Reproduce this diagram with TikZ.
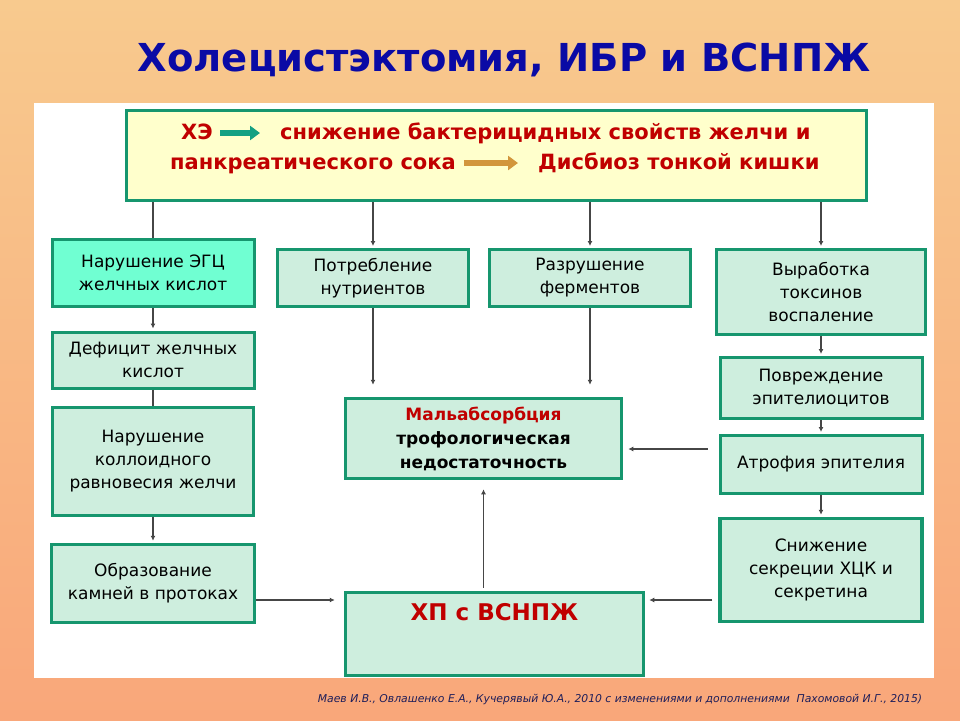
\documentclass[tikz,border=0pt]{standalone}
\usepackage{fontspec}
\setmainfont{DejaVu Sans}
\usetikzlibrary{arrows.meta}
\definecolor{bgtop}{RGB}{248,202,142}
\definecolor{bgbot}{RGB}{249,167,122}
\definecolor{boxline}{RGB}{22,150,110}
\definecolor{boxfill}{RGB}{206,238,222}
\definecolor{egcfill}{RGB}{112,255,210}
\definecolor{topfill}{RGB}{255,255,204}
\definecolor{darkred}{RGB}{192,0,0}
\definecolor{titleblue}{RGB}{10,10,165}
\definecolor{linegray}{RGB}{70,70,70}
\definecolor{arrgreen}{RGB}{20,160,130}
\definecolor{arrorange}{RGB}{210,150,60}
\definecolor{footblue}{RGB}{30,30,90}
\tikzset{
  box/.style={draw=boxline,line width=3pt,fill=boxfill,align=center,inner sep=2pt,
    font=\fontsize{17}{23}\selectfont},
  conn/.style={draw=linegray,line width=1.6pt,shorten >=2pt,-{Latex[length=5pt,width=5pt]}},
  link/.style={draw=linegray,line width=1.6pt},
  fat/.style={line width=6pt,draw=#1,-{Triangle[length=10pt,width=14pt]}},
  toptext/.style={text=darkred,font=\fontsize{21}{25}\selectfont\bfseries,inner sep=0pt,
    anchor=west,text height=15pt,text depth=2pt}
}
\begin{document}
\begin{tikzpicture}[x=1pt,y=-1pt]
\shade[top color=bgtop,bottom color=bgbot] (0,0) rectangle (960,720);
\useasboundingbox (0,0) rectangle (960,720);
\fill[white] (34,103) rectangle (934,678);
\node[font=\fontsize{38.5}{46}\selectfont\bfseries,text=titleblue] (title) at (504,60) {Холецистэктомия, ИБР и ВСНПЖ};
\node[box,fill=topfill,minimum width=740pt,minimum height=90pt] (top) at (496,155.5) {};
\node[toptext] (he) at (181,133) {ХЭ};
\node[toptext] (sn) at (280,133) {снижение бактерицидных свойств желчи и};
\node[toptext] (pank) at (170,163) {панкреатического сока};
\node[toptext] (dis) at (538,163) {Дисбиоз тонкой кишки};
\draw[fat=arrgreen,shorten <=7pt,shorten >=20pt] (he.east) -- (he.east -| sn.west);
\draw[fat=arrorange,shorten <=8pt,shorten >=20pt] (pank.east) -- (pank.east -| dis.west);
\node[box,fill=egcfill,minimum width=202pt,minimum height=67pt] (egc) at (153,273) {Нарушение ЭГЦ\\желчных кислот};
\node[box,minimum width=202pt,minimum height=56pt] (def) at (153,360) {Дефицит желчных\\кислот};
\node[box,line width=3.5pt,minimum width=201pt,minimum height=108pt] (koll) at (153,461.5) {Нарушение\\коллоидного\\равновесия желчи};
\node[box,line width=3.5pt,minimum width=203pt,minimum height=78pt] (obr) at (153,583.5) {Образование\\камней в протоках};
\node[box,minimum width=191pt,minimum height=57pt] (potr) at (373,278) {Потребление\\нутриентов};
\node[box,minimum width=201pt,minimum height=57pt] (razr) at (590,278) {Разрушение\\ферментов};
\node[box,line width=3.5pt,minimum width=276pt,minimum height=80pt,font=\fontsize{17}{24}\selectfont\bfseries] (mal) at (483.5,438.5) {\textcolor{darkred}{Мальабсорбция}\\трофологическая\\недостаточность};
\node[box,line width=3.5pt,minimum width=298pt,minimum height=83pt,text=darkred,font=\fontsize{23}{28}\selectfont\bfseries] (hp) at (494.5,634) {ХП с ВСНПЖ\\[8pt]\strut};
\node[box,minimum width=209pt,minimum height=85pt] (vyr) at (821,292) {Выработка\\токсинов\\воспаление};
\node[box,minimum width=202pt,minimum height=61pt] (povr) at (821,388) {Повреждение\\эпителиоцитов};
\node[box,minimum width=202pt,minimum height=58pt] (atr) at (821,464.5) {Атрофия эпителия};
\node[box,line width=3.5pt,minimum width=202pt,minimum height=103pt] (sniz) at (821,570) {Снижение\\секреции ХЦК и\\секретина};
\draw[link] (egc |- top.south) -- (egc);
\foreach \to in {potr,razr,vyr}
\draw[conn] (\to |- top.south) -- (\to);
\foreach \from/\to in {egc/def,koll/obr,vyr/povr,povr/atr,atr/sniz}
\draw[conn] (\from) -- (\to);
\draw[link] (def) -- (koll);
\foreach \from in {potr,razr}
\draw[conn,shorten >=12pt] (\from) -- (\from |- mal.north);
\draw[conn,shorten >=9pt,shorten <=3pt] (mal |- hp.north) -- (mal);
\coordinate (atrout) at ([yshift=15.5pt]atr.west);
\draw[conn,shorten <=11pt,shorten >=5pt] (atrout) -- (atrout -| mal.east);
\coordinate (snizout) at ([yshift=-30pt]sniz.west);
\draw[conn,shorten <=6pt,shorten >=4pt] (snizout) -- (snizout -| hp.east);
\coordinate (obrout) at ([yshift=-16.5pt]obr.east);
\draw[conn,shorten >=9pt] (obrout) -- (obrout -| hp.west);
\node[font=\fontsize{10.8}{13}\selectfont\itshape,text=footblue] (src) at (620,700) {Маев И.В., Овлашенко Е.А., Кучерявый Ю.А., 2010 с изменениями и дополнениями\ \ Пахомовой И.Г., 2015)};
\end{tikzpicture}
\end{document}
